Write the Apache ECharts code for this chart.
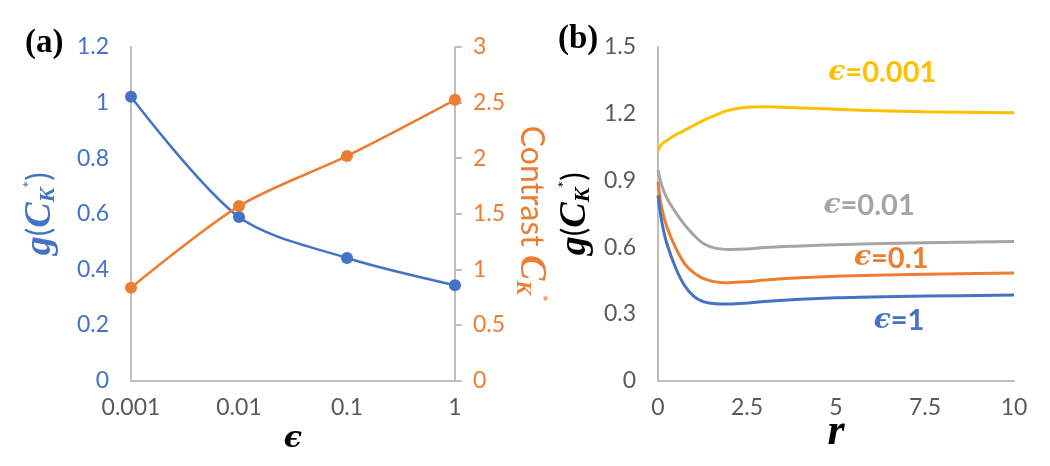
<!DOCTYPE html>
<html><head><meta charset="utf-8">
<script src="https://cdn.jsdelivr.net/npm/echarts@6/dist/echarts.min.js"></script>
<style>html,body{margin:0;padding:0;background:#fff}#c{width:1050px;height:466px}</style>
</head><body><div id="c"></div>
<script>
// Panel (a)
const epsCategories = ['0.001', '0.01', '0.1', '1'];
const gValues = [1.021, 0.588, 0.441, 0.343];
const contrastValues = [0.834, 1.569, 2.02, 2.525];
const gTicks = [0, 0.2, 0.4, 0.6, 0.8, 1, 1.2];
const contrastTicks = [0, 0.5, 1, 1.5, 2, 2.5, 3];
// Panel (b)
const rValues = [0, 0.1, 0.25, 0.5, 0.75, 1, 1.25, 1.5, 1.75, 2, 2.5, 3, 4, 5, 6, 7.5, 10];
const gEps0001 = [1.032, 1.062, 1.08, 1.105, 1.126, 1.147, 1.168, 1.186, 1.203, 1.216, 1.229, 1.231, 1.226, 1.22, 1.214, 1.209, 1.204];
const gEps001 = [0.946, 0.88, 0.82, 0.755, 0.7, 0.655, 0.618, 0.6, 0.592, 0.589, 0.591, 0.598, 0.605, 0.611, 0.615, 0.62, 0.625];
const gEps01 = [0.893, 0.78, 0.69, 0.595, 0.525, 0.485, 0.46, 0.447, 0.441, 0.44, 0.444, 0.452, 0.462, 0.469, 0.473, 0.478, 0.483];
const gEps1 = [0.833, 0.72, 0.615, 0.505, 0.426, 0.38, 0.356, 0.347, 0.344, 0.344, 0.348, 0.355, 0.365, 0.372, 0.376, 0.38, 0.384];
const rTicks = [0, 2.5, 5, 7.5, 10];
const curveLabels = ['ϵ=0.001', 'ϵ=0.01', 'ϵ=0.1', 'ϵ=1'];
const labelPos = [[6.3, 1.383], [5.93, 0.788], [6.55, 0.55], [6.77, 0.27]];

const BLUE = '#4472C4', ORANGE = '#ED7D31', GRAY = '#A5A5A5', YELLOW = '#FFC000';
const SANS = 'Lato, "Open Sans", sans-serif';
const SERIF = '"DejaVu Serif", serif';
const LSERIF = '"Liberation Serif", serif';

function gName(color) {
  return {
    name: '{g|g}{p|(}{c|C}{s|K}{t|*}{p|)}',
    rich: {
      g: {fontFamily: LSERIF, fontStyle: 'italic', fontWeight: 'bold', fontSize: 38, color},
      p: {fontFamily: SANS, fontSize: 32, color},
      c: {fontFamily: LSERIF, fontStyle: 'italic', fontWeight: 'bold', fontSize: 38, color},
      s: {fontFamily: LSERIF, fontStyle: 'italic', fontWeight: 'bold', fontSize: 22, color, verticalAlign: 'bottom', padding: [14, 0, 0, 0]},
      t: {fontFamily: SANS, fontSize: 16, color, verticalAlign: 'top', padding: [0, 0, 14, 0]}
    }
  };
}

function epsLabel(i, color) {
  const txt = curveLabels[i];
  return {
    coord: labelPos[i],
    symbolSize: 0,
    label: {
      show: true, position: 'inside',
      formatter: '{e|ϵ}{n|' + txt.slice(1) + '}',
      rich: {
        e: {fontFamily: SERIF, fontStyle: 'italic', fontWeight: 'bold', fontSize: 28, color},
        n: {fontFamily: SANS, fontWeight: 'bold', fontSize: 29, color}
      }
    }
  };
}

const chart = echarts.init(document.getElementById('c'), null, {renderer: 'canvas'});
const gA = gName(BLUE), gB = gName('#000');
const axisLabelStyle = {fontFamily: SANS, fontSize: 23, color: '#595959'};

const lineSeries = (name, data, color, idx) => ({
  name, type: 'line', xAxisIndex: 1, yAxisIndex: 2,
  data: rValues.map((r, i) => [r, data[i]]),
  smooth: 0.35, showSymbol: false, lineStyle: {color, width: 3}, itemStyle: {color},
  markPoint: {silent: true, symbol: 'circle', symbolSize: 0, data: [epsLabel(idx, color)]}
});

chart.setOption({
  animation: false,
  title: [
    {text: '(a)', left: 20, top: 22, textStyle: {fontFamily: LSERIF, fontWeight: 'bold', fontSize: 33, color: '#000'}},
    {text: '(b)', left: 553, top: 18, textStyle: {fontFamily: LSERIF, fontWeight: 'bold', fontSize: 33, color: '#000'}}
  ],
  grid: [
    {left: 131, right: 595, top: 47, bottom: 85.5},
    {left: 658, right: 36, top: 47, bottom: 85.5}
  ],
  xAxis: [
    {type: 'category', gridIndex: 0, data: epsCategories, boundaryGap: false,
     axisLine: {lineStyle: {color: '#BFBFBF', width: 2}}, axisTick: {show: false},
     axisLabel: Object.assign({margin: 16}, axisLabelStyle),
     name: 'ϵ', nameLocation: 'middle', nameGap: 44, nameMoveOverlap: false,
     nameTextStyle: {fontFamily: SERIF, fontStyle: 'italic', fontWeight: 'bold', fontSize: 30, color: '#000'}},
    {type: 'value', gridIndex: 1, min: 0, max: 10, interval: 2.5,
     axisLine: {lineStyle: {color: '#BFBFBF', width: 2}}, axisTick: {show: false}, splitLine: {show: false},
     axisLabel: Object.assign({margin: 16}, axisLabelStyle),
     name: 'r', nameLocation: 'middle', nameGap: 30, nameMoveOverlap: false,
     nameTextStyle: {fontFamily: LSERIF, fontStyle: 'italic', fontWeight: 'bold', fontSize: 44, color: '#000'}}
  ],
  yAxis: [
    {type: 'value', gridIndex: 0, min: gTicks[0], max: gTicks[gTicks.length - 1], interval: 0.2, position: 'left',
     axisLine: {show: true, lineStyle: {color: '#BFBFBF', width: 2}}, axisTick: {show: false}, splitLine: {show: false},
     axisLabel: Object.assign({}, axisLabelStyle, {margin: 22, color: BLUE}),
     name: gA.name, nameLocation: 'middle', nameGap: 72, nameRotate: 90, nameMoveOverlap: false,
     nameTextStyle: {rich: gA.rich}},
    {type: 'value', gridIndex: 0, min: contrastTicks[0], max: contrastTicks[contrastTicks.length - 1], interval: 0.5, position: 'right',
     axisLine: {show: true, lineStyle: {color: '#BFBFBF', width: 2}},
     axisTick: {show: true, length: 7, lineStyle: {color: '#BFBFBF', width: 2}}, splitLine: {show: false},
     axisLabel: Object.assign({}, axisLabelStyle, {margin: 18, color: ORANGE}),
     name: '{a|Contrast }{c|C}{s|K}{t|*}', nameLocation: 'middle', nameGap: 57, nameRotate: -90, nameMoveOverlap: false,
     nameTextStyle: {rich: {
       a: {fontFamily: SANS, fontSize: 32, color: ORANGE},
       c: {fontFamily: LSERIF, fontStyle: 'italic', fontWeight: 'bold', fontSize: 38, color: ORANGE},
       s: {fontFamily: LSERIF, fontStyle: 'italic', fontWeight: 'bold', fontSize: 22, color: ORANGE, verticalAlign: 'bottom', padding: [14, 0, 0, 0]},
       t: {fontFamily: SANS, fontSize: 16, color: ORANGE, verticalAlign: 'top', padding: [0, 0, 14, 0]}
     }}},
    {type: 'value', gridIndex: 1, min: 0, max: 1.5, interval: 0.3,
     axisLine: {show: true, lineStyle: {color: '#BFBFBF', width: 2}}, axisTick: {show: false}, splitLine: {show: false},
     axisLabel: Object.assign({margin: 22}, axisLabelStyle, {formatter: v => (Math.round(v * 10) / 10).toString()}),
     name: gB.name, nameLocation: 'middle', nameGap: 64, nameRotate: 90, nameMoveOverlap: false,
     nameTextStyle: {rich: gB.rich}}
  ],
  series: [
    {name: 'g', type: 'line', xAxisIndex: 0, yAxisIndex: 0, data: gValues, smooth: 0.3,
     symbol: 'circle', symbolSize: 12, lineStyle: {color: BLUE, width: 2.5}, itemStyle: {color: BLUE}},
    {name: 'Contrast', type: 'line', xAxisIndex: 0, yAxisIndex: 1, data: contrastValues, smooth: 0.3,
     symbol: 'circle', symbolSize: 12, lineStyle: {color: ORANGE, width: 2.5}, itemStyle: {color: ORANGE}},
    lineSeries('eps0.001', gEps0001, YELLOW, 0),
    lineSeries('eps0.01', gEps001, GRAY, 1),
    lineSeries('eps0.1', gEps01, ORANGE, 2),
    lineSeries('eps1', gEps1, BLUE, 3)
  ]
});
</script></body></html>
